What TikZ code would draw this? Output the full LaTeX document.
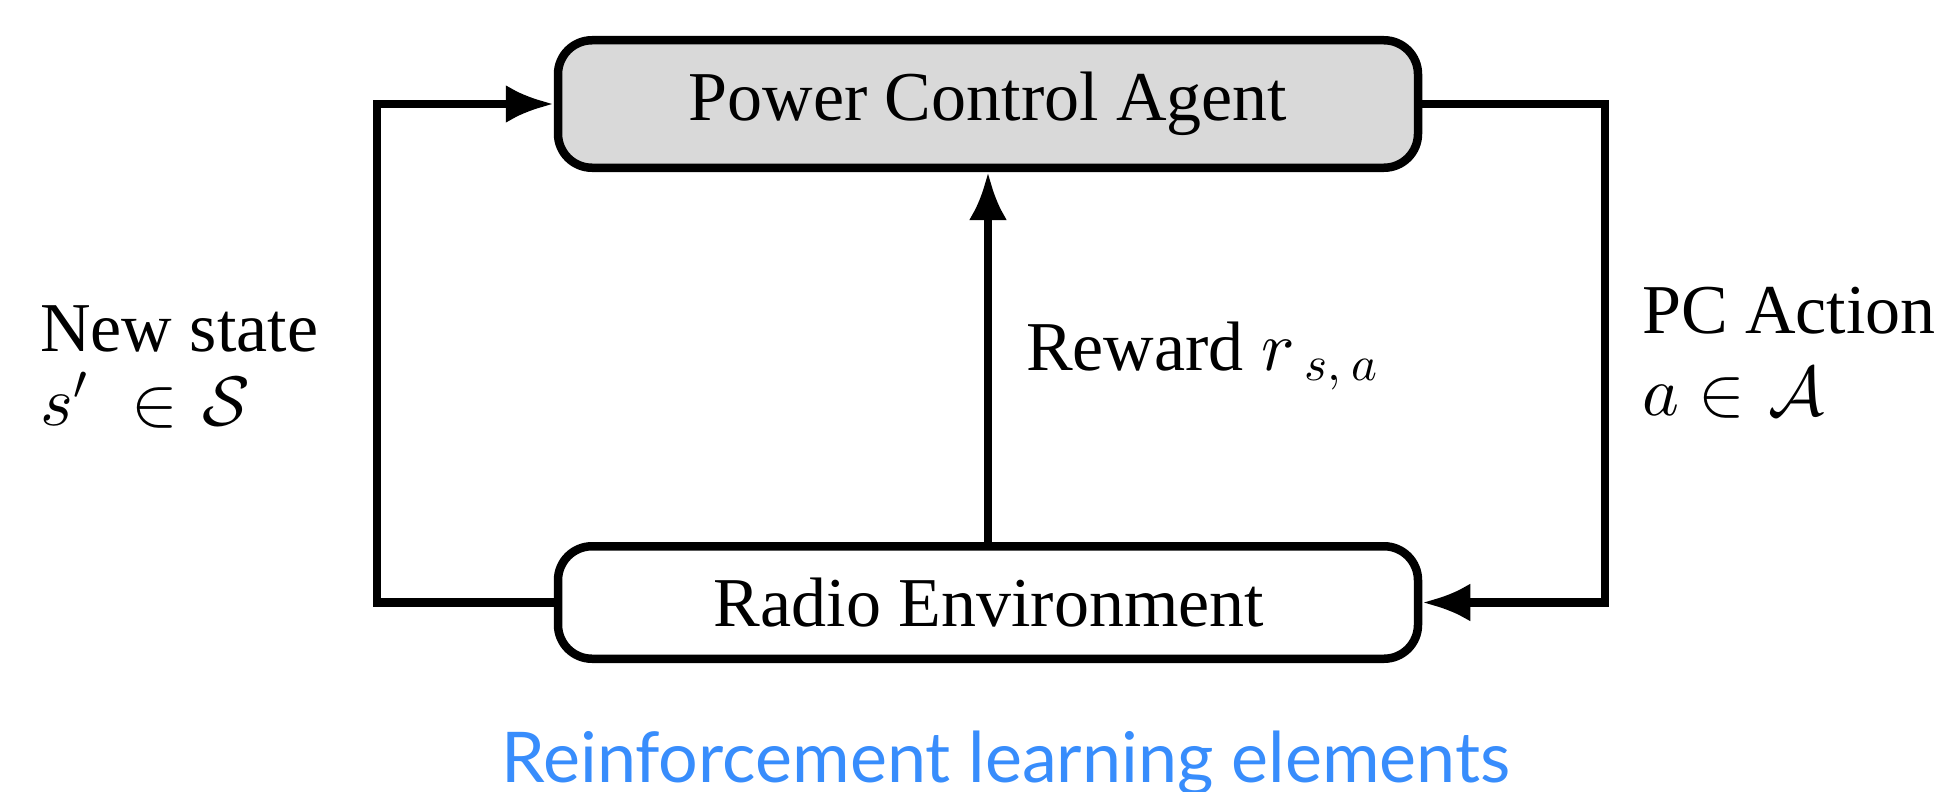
\documentclass[tikz,border=0pt]{standalone}
\usepackage{fontspec}
\setmainfont{Liberation Serif}
\newfontfamily\capfont{Lato}
\DeclareFontShape{OML}{cmm}{m}{it}{<->cmmi10}{\skewchar\font'177}
\DeclareFontShape{OMS}{cmsy}{m}{n}{<->cmsy10}{\skewchar\font'60}
\DeclareFontShape{OT1}{cmr}{m}{n}{<->cmr10}{}
\DeclareFontShape{OMX}{cmex}{m}{n}{<->cmex10}{}
\DeclareMathSizes{70}{70}{49}{35}
\usetikzlibrary{arrows.meta}
\definecolor{boxgray}{RGB}{217,217,217}
\definecolor{capblue}{RGB}{56,141,252}
\begin{document}
\begin{tikzpicture}[x=1pt,y=-1pt,
  blk/.style={draw=black,line width=8.5pt,rounded corners=34pt,
    minimum width=860pt,inner sep=0pt,font=\fontsize{70}{76}\selectfont},
  arr/.style={line width=8.5pt,-{Latex[length=48pt,width=38pt]}},
  lbl/.style={inner sep=0pt,font=\fontsize{70}{76}\selectfont}]
\useasboundingbox (0,0) rectangle (1946,792);
\node[blk,fill=boxgray,minimum height=127.5pt] (top) at (988,104) {};
\node[blk,fill=white,minimum height=112.5pt] (bot) at (988,602.5) {};
\node[lbl,anchor=base] (toptxt) at (988,120) {Power Control Agent};
\node[lbl,anchor=base] (bottxt) at (989,626) {Radio Environment};
\coordinate (L) at (377,104);
\coordinate (R) at (1605,602.5);
\draw[arr] (bot.west) -| (L) -- (top.west);
\draw[arr] (top.east) -| (R) -- (bot.east);
\draw[arr] (bot.north) -- (top.south);
\node[lbl,anchor=base west] (ns1) at (40,351) {New state};
\node[lbl,anchor=base west] (ns2) at (40,425) {$s'\hspace{25pt}\in\hspace{5pt}\mathcal{S}$};
\node[lbl,anchor=base west] (rw) at (1026,370) {Reward $r_{\hspace{12pt}s,\hspace{10pt}a}$};
\node[lbl,anchor=base west] (pc1) at (1642,333) {PC Action};
\node[lbl,anchor=base west] (pc2) at (1642,415) {$a\in\hspace{4pt}\mathcal{A}$};
\node[inner sep=0pt,anchor=base,text=capblue,font=\capfont\fontsize{70}{80}\selectfont] (cap) at (1006,782) {Reinforcement learning elements};
\end{tikzpicture}
\end{document}
